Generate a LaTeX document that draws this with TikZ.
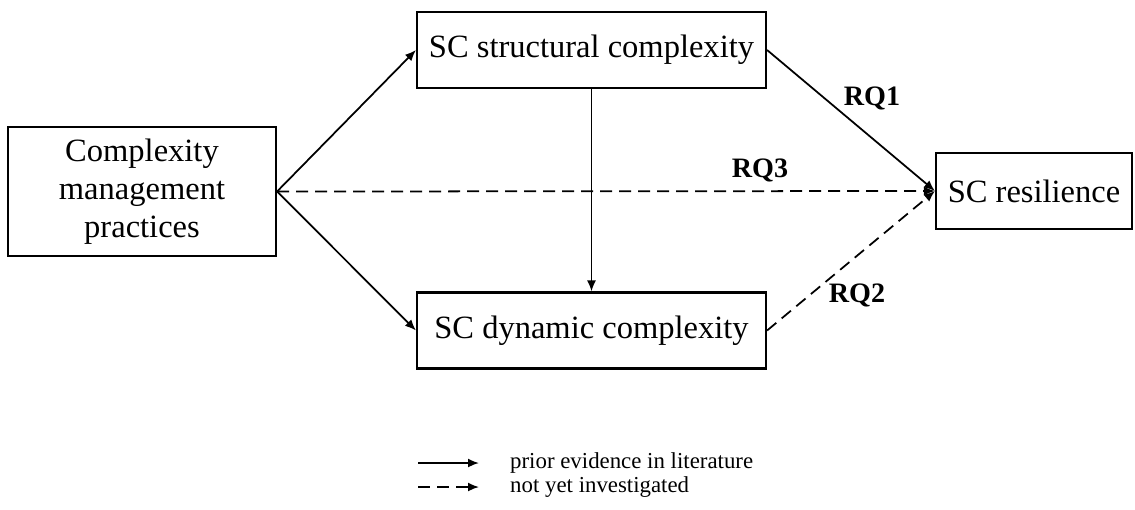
\documentclass[tikz,border=0pt]{standalone}
\usepackage{fontspec}
\setmainfont{Liberation Serif}
\usetikzlibrary{arrows.meta, positioning}

\begin{document}
\begin{tikzpicture}[
        cbox/.style={rectangle, draw=black, line width=1.2pt, align=center, inner sep=2pt, font=\fontsize{18.5}{21.5}\selectfont},
        arr/.style={-{Latex[length=2.2mm, width=1.8mm]}, line width=1pt, black},
        darr/.style={arr, dash pattern=on 2.4mm off 1.4mm},
        rq/.style={font=\fontsize{16}{18}\selectfont\bfseries},
        leg/.style={font=\fontsize{13}{15}\selectfont, anchor=west}
      ]
        \useasboundingbox (0,0) rectangle (22.7,-10.18);

        \node[cbox, minimum width=5.36cm, minimum height=2.58cm] (cmp) at (2.84,-3.83) {Complexity\\management\\practices};
        \node[cbox, minimum width=6.98cm, minimum height=1.52cm] (struct) at (11.83,-1.0) {SC structural complexity};
        \node[cbox, minimum width=6.98cm, minimum height=1.52cm] (dyn) at (11.83,-6.61) {SC dynamic complexity};
        \node[cbox, minimum width=3.92cm, minimum height=1.52cm] (res) at (20.68,-3.82) {SC resilience};

        \draw[arr] (cmp.east) -- (struct.west);
        \draw[arr] (cmp.east) -- (dyn.west);
        \draw[arr] (struct) -- (dyn);
        \draw[arr] (struct.east) -- (res.west);
        \draw[darr] (cmp.east) -- (res.west);
        \draw[darr] (dyn.east) -- (res.west);

        \node[rq] (rq1) at (17.44,-1.96) {RQ1};
        \node[rq] (rq3) at (15.2,-3.4) {RQ3};
        \node[rq] (rq2) at (17.14,-5.9) {RQ2};

        \coordinate (la) at (8.36,-9.26);
        \coordinate (lb) at (9.58,-9.26);
        \coordinate (lc) at (8.36,-9.74);
        \coordinate (ld) at (9.58,-9.74);
        \draw[arr] (la) -- (lb);
        \draw[darr] (lc) -- (ld);
        \node[leg, right=0.5cm of lb] (lsolid) {prior evidence in literature};
        \node[leg, right=0.5cm of ld] (ldash) {not yet investigated};
      \end{tikzpicture}
\end{document}
